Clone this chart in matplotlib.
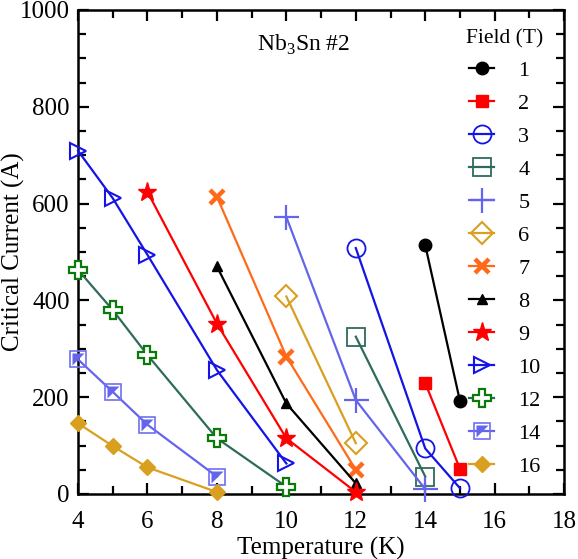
import numpy as np
import matplotlib.pyplot as plt
from matplotlib.ticker import MultipleLocator

plt.rcParams['font.family'] = ['Liberation Serif', 'DejaVu Serif']
plt.rcParams['mathtext.fontset'] = 'custom'
plt.rcParams['mathtext.rm'] = 'Liberation Serif'

# field (T) -> temperatures (K) and critical currents (A)
fields = ['1', '2', '3', '4', '5', '6', '7', '8', '9', '10', '12', '14', '16']
temps = {
    '1': [14, 15],
    '2': [14, 15],
    '3': [12, 14, 15],
    '4': [12, 14],
    '5': [10, 12, 14],
    '6': [10, 12],
    '7': [8, 10, 12],
    '8': [8, 10, 12],
    '9': [6, 8, 10, 12],
    '10': [4, 5, 6, 8, 10],
    '12': [4, 5, 6, 8, 10],
    '14': [4, 5, 6, 8],
    '16': [4, 5, 6, 8],
}
currents = {
    '1': [514, 192],
    '2': [229, 52],
    '3': [508, 94, 12],
    '4': [325, 36],
    '5': [572, 194, 10],
    '6': [408, 105],
    '7': [614, 284, 50],
    '8': [470, 187, 22],
    '9': [624, 352, 115, 4],
    '10': [709, 611, 494, 256, 63],
    '12': [463, 380, 287, 115, 15],
    '14': [278, 211, 143, 36],
    '16': [146, 99, 55, 4],
}

# style per field: line colour, marker, size, face colour, edge colour, edge width
styles = {
    '1': ('black', 'o', 9, 'black', 'black', 1),
    '2': ('red', 's', 9, 'red', 'red', 1),
    '3': ('#1414e6', 'o', 13, 'none', '#1414e6', 1.3),
    '4': ('#2f6b5c', 's', 13, 'none', '#2f6b5c', 1.3),
    '5': ('#6464ec', '+', 18, '#6464ec', '#6464ec', 1.6),
    '6': ('#d9a020', 'D', 11, 'none', '#d9a020', 1.5),
    '7': ('#ff6a1a', 'x', 10, '#ff6a1a', '#ff6a1a', 3.2),
    '8': ('black', '^', 7, 'black', 'black', 1),
    '9': ('red', '*', 14, 'red', 'red', 1),
    '10': ('#1414e6', '>', 12, 'none', '#1414e6', 1.5),
    '12': ('#2f6b5c', 'P', 13, 'white', '#0a7a0a', 1.6),
    '14': ('#6464ec', 's', 12, 'none', '#7070f0', 1.2),
    '16': ('#d9a020', 'D', 8, '#d9a020', '#d9a020', 1),
}

fig = plt.figure(figsize=(5.78, 5.59), dpi=100)
ax = fig.add_axes([0.135, 0.1163, 0.841, 0.866])

handles = []
for f in fields:
    lc, mk, ms, fc, ec, mew = styles[f]
    h, = ax.plot(temps[f], currents[f], color=lc, lw=1.6, marker=mk, ms=ms,
                 mfc=fc, mec=ec, mew=mew, label=f, clip_on=False, zorder=3)
    if f == '14':
        # half filled square: upper-left triangle filled
        tri = [(-1, -1), (-1, 1), (1, 1), (-1, -1)]
        h2, = ax.plot(temps[f], currents[f], ls='none', marker=tri, ms=ms * 0.72,
                      mfc='#6464ec', mec='none', clip_on=False, zorder=3)
        handles.append((h, h2))
    else:
        handles.append(h)

ax.set_xlim(4, 18)
ax.set_ylim(0, 1000)
ax.xaxis.set_major_locator(MultipleLocator(2))
ax.xaxis.set_minor_locator(MultipleLocator(1))
ax.yaxis.set_major_locator(MultipleLocator(200))
ax.yaxis.set_minor_locator(MultipleLocator(50))
ax.tick_params(which='both', direction='in', top=True, right=True, width=1.6)
ax.tick_params(which='major', length=8, labelsize=18)
ax.tick_params(which='minor', length=5.5)
ax.tick_params(axis='x', which='major', pad=12)
ax.tick_params(axis='y', which='major', pad=6)
for s in ax.spines.values():
    s.set_linewidth(1.8)

ax.set_xlabel('Temperature (K)', fontsize=18, labelpad=3)
ax.set_ylabel('Critical Current (A)', fontsize=18, labelpad=-4)

ax.text(10.5, 928, 'Nb$_3$Sn #2', fontsize=17, ha='center', va='center')

leg = ax.legend(handles, fields, loc='upper right', bbox_to_anchor=(0.967, 0.97),
                frameon=False, title='Field (T)', fontsize=16, title_fontsize=15.5,
                handlelength=1.1, labelspacing=0.56, handletextpad=1.1,
                borderpad=0.2, borderaxespad=0)

fig.savefig('out.png', dpi=100)
